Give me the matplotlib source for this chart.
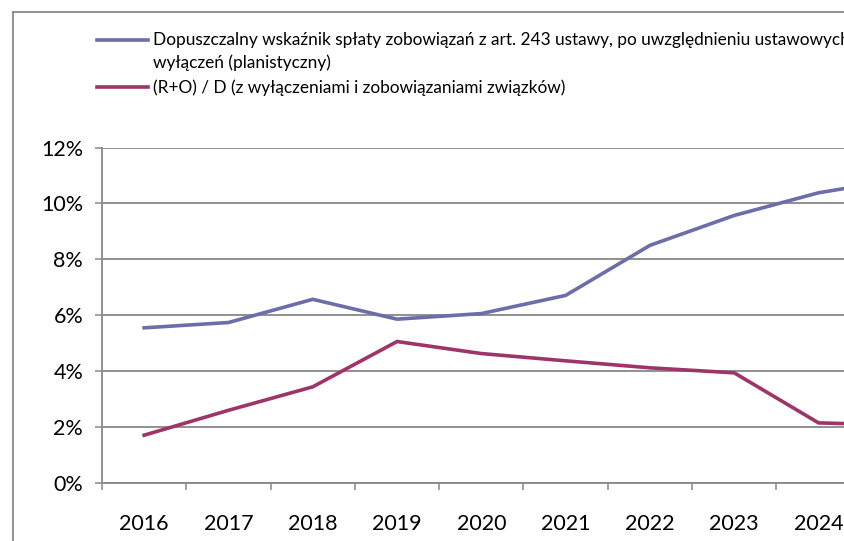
import matplotlib
matplotlib.use("Agg")
import matplotlib.pyplot as plt
import matplotlib.ticker as ticker
from matplotlib.lines import Line2D

# data (last year is only partly visible)
years = [2016, 2017, 2018, 2019, 2020, 2021, 2022, 2023, 2024, 2025]
limit_pct = [5.55, 5.74, 6.57, 5.86, 6.06, 6.71, 8.50, 9.57, 10.38, 10.88]
ratio_pct = [1.71, 2.60, 3.44, 5.06, 4.63, 4.37, 4.12, 3.94, 2.15, 2.07]

label_limit = "Dopuszczalny wskaźnik spłaty zobowiązań z art. 243 ustawy, po uwzględnieniu ustawowych"
label_limit2 = "wyłączeń (planistyczny)"
label_ratio = "(R+O) / D (z wyłączeniami i zobowiązaniami związków)"

C_LIMIT = "#6B6EA8"
C_RATIO = "#9E3468"
C_GRID = "#888888"

plt.rcParams["font.family"] = ["Lato", "DejaVu Sans"]

W, H = 845, 541
fig = plt.figure(figsize=(W / 100, H / 100), dpi=100)


def fx(px):
    return px / W


def fy(py):
    return 1 - py / H


ax = fig.add_axes([fx(102), fy(483), fx(W - 102), fy(147.5) - fy(483)])

x = list(range(len(years)))
ax.plot(x, [v / 100 for v in limit_pct], color=C_LIMIT, lw=2.6, solid_joinstyle="miter")
ax.plot(x, [v / 100 for v in ratio_pct], color=C_RATIO, lw=2.6, solid_joinstyle="miter")

ax.set_yticks([0, 0.02, 0.04, 0.06, 0.08, 0.10, 0.12])
ax.yaxis.set_major_formatter(ticker.FuncFormatter(lambda v, p: f"{v * 100:.0f}%"))
ax.tick_params(axis="y", length=5, width=1.1, color=C_GRID, pad=8.5, labelsize=15.5)

ax.set_xticks(x)
ax.set_xticklabels([str(y) for y in years])
ax.set_xticks([i - 0.5 for i in range(len(years) + 1)], minor=True)
ax.tick_params(axis="x", which="major", length=0, pad=22, labelsize=15.5)
ax.tick_params(axis="x", which="minor", length=5, width=1.1, color=C_GRID)

# the chart continues past the right edge of the picture
cat_w = 84.3
ax.set_xlim(-0.5, -0.5 + (W - 102) / cat_w)
ax.set_ylim(0, 0.12)

ax.grid(axis="y", color=C_GRID, lw=1.3)
ax.set_axisbelow(True)
for side in ["top", "right"]:
    ax.spines[side].set_visible(False)
for side in ["left", "bottom"]:
    ax.spines[side].set_color(C_GRID)
    ax.spines[side].set_linewidth(1.3)

# outer chart frame (cut off on the right and bottom)
fig.add_artist(Line2D([fx(13), fx(13)], [0, fy(12)], color=C_GRID, lw=1.3))
fig.add_artist(Line2D([fx(13), 1], [fy(12), fy(12)], color=C_GRID, lw=1.3))

# legend
fig.add_artist(Line2D([fx(97), fx(148)], [fy(39.7), fy(39.7)], color=C_LIMIT, lw=2.6))
fig.add_artist(Line2D([fx(97), fx(148)], [fy(87.5), fy(87.5)], color=C_RATIO, lw=2.6))
fig.text(fx(153), fy(40), label_limit, va="center", ha="left", fontsize=12.4)
fig.text(fx(153), fy(63), label_limit2, va="center", ha="left", fontsize=12.4)
fig.text(fx(153), fy(88), label_ratio, va="center", ha="left", fontsize=12.4)

fig.savefig("out.png", dpi=100)
